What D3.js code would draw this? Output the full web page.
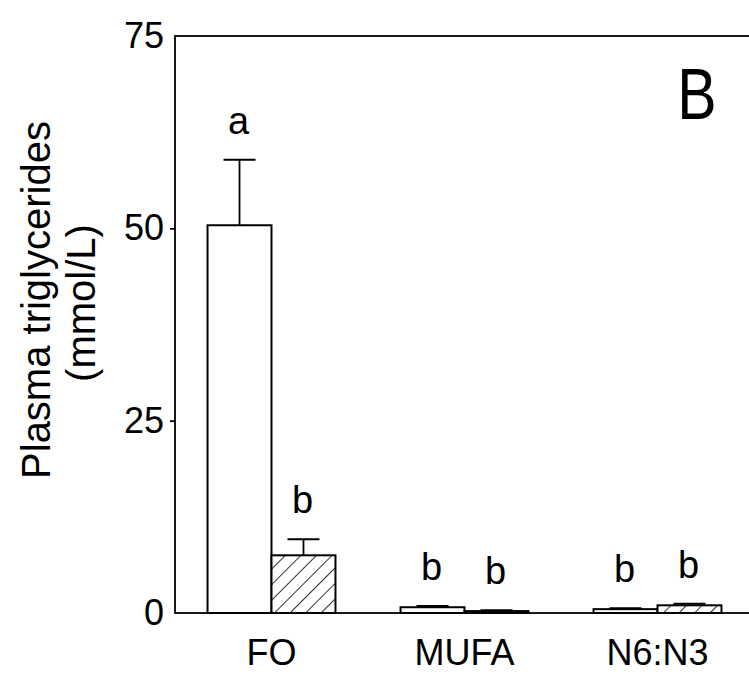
<!DOCTYPE html>
<html>
<head>
<meta charset="utf-8">
<script src="https://cdn.jsdelivr.net/npm/d3@7"></script>
<style>
  html, body { margin: 0; padding: 0; background: #fff; }
  svg { display: block; }
  text { font-family: "Liberation Sans", Arial, Helvetica, sans-serif; fill: #000; }
</style>
</head>
<body>
<svg id="chart" width="749" height="674"></svg>
<script>
// ---- data ----
const categories = ["FO", "MUFA", "N6:N3"];
const seriesNames = ["open", "hatched"];
const openValues = [50.4, 0.75, 0.5];
const openErrors = [8.5, 0.15, 0.12];
const hatchedValues = [7.5, 0.25, 1.0];
const hatchedErrors = [2.1, 0.1, 0.2];
const openLetters = ["a", "b", "b"];
const hatchedLetters = ["b", "b", "b"];
const yTicks = [0, 25, 50, 75];
const yTitle = ["Plasma triglycerides", "(mmol/L)"];
const panelLabel = "B";

// ---- layout ----
const svg = d3.select("#chart");
const plotLeft = 175, plotRight = 754, plotTop = 36, plotBottom = 613;

const x = d3.scaleBand().domain(categories).range([plotLeft, plotRight])
  .paddingInner(0.337).paddingOuter(0.1685);
const xs = d3.scaleBand().domain(seriesNames).range([0, x.bandwidth()]).padding(0);
const y = d3.scaleLinear().domain([0, 75]).range([plotBottom, plotTop]);

// hatch pattern
const hs = 11;
const defs = svg.append("defs");
const pat = defs.append("pattern")
  .attr("id", "hatch").attr("patternUnits", "userSpaceOnUse")
  .attr("width", hs).attr("height", hs)
  .attr("patternTransform", "rotate(45)");
pat.append("rect").attr("width", hs).attr("height", hs).attr("fill", "#fff");
pat.append("line").attr("x1", 0).attr("y1", 0).attr("x2", 0).attr("y2", hs)
  .attr("stroke", "#000").attr("stroke-width", 1.6);

const rows = [];
categories.forEach((c, i) => {
  rows.push({cat: c, s: "open", v: openValues[i], e: openErrors[i], l: openLetters[i]});
  rows.push({cat: c, s: "hatched", v: hatchedValues[i], e: hatchedErrors[i], l: hatchedLetters[i]});
});

// bars
const g = svg.append("g");
g.selectAll("rect.bar").data(rows).join("rect")
  .attr("class", "bar")
  .attr("x", d => x(d.cat) + xs(d.s))
  .attr("width", xs.bandwidth())
  .attr("y", d => y(d.v))
  .attr("height", d => y(0) - y(d.v))
  .attr("fill", d => d.s === "open" ? "#fff" : "url(#hatch)")
  .attr("stroke", "#000").attr("stroke-width", 2);

// error bars (upper only)
const capHalf = 16;
const eb = g.selectAll("g.err").data(rows).join("g").attr("class", "err");
eb.append("line")
  .attr("x1", d => x(d.cat) + xs(d.s) + xs.bandwidth() / 2)
  .attr("x2", d => x(d.cat) + xs(d.s) + xs.bandwidth() / 2)
  .attr("y1", d => y(d.v)).attr("y2", d => y(d.v + d.e))
  .attr("stroke", "#000").attr("stroke-width", 1.8);
eb.append("line")
  .attr("x1", d => x(d.cat) + xs(d.s) + xs.bandwidth() / 2 - capHalf)
  .attr("x2", d => x(d.cat) + xs(d.s) + xs.bandwidth() / 2 + capHalf)
  .attr("y1", d => y(d.v + d.e)).attr("y2", d => y(d.v + d.e))
  .attr("stroke", "#000").attr("stroke-width", 2);

// significance letters
g.selectAll("text.sig").data(rows).join("text")
  .attr("class", "sig")
  .attr("x", d => x(d.cat) + xs(d.s) + xs.bandwidth() / 2 - 1)
  .attr("y", d => y(d.v + d.e) - 26)
  .attr("text-anchor", "middle")
  .style("font-size", "38px")
  .text(d => d.l);

// frame
svg.append("rect")
  .attr("x", plotLeft).attr("y", plotTop)
  .attr("width", plotRight - plotLeft).attr("height", plotBottom - plotTop)
  .attr("fill", "none").attr("stroke", "#000").attr("stroke-width", 1.8);

// y axis
const yAxis = svg.append("g").attr("transform", `translate(${plotLeft},0)`)
  .call(d3.axisLeft(y).tickValues(yTicks).tickSize(5).tickPadding(7).tickFormat(d3.format("d")));
yAxis.select(".domain").remove();
yAxis.selectAll(".tick line").attr("stroke", "#000").attr("stroke-width", 1.8)
  .attr("display", d => (d === 0 || d === 75) ? "none" : null);
yAxis.selectAll(".tick text")
  .attr("x", -11)
  .style("font-size", "36px").style("font-family", "'Liberation Sans', Arial, sans-serif")
  .attr("fill", "#000");

// x category labels
svg.selectAll("text.cat").data(categories).join("text")
  .attr("class", "cat")
  .attr("x", d => x(d) + x.bandwidth() / 2)
  .attr("y", 665)
  .attr("text-anchor", "middle")
  .style("font-size", "36px")
  .text(d => d);

// y title
svg.append("text")
  .attr("transform", "translate(50,300) rotate(-90)")
  .attr("text-anchor", "middle").style("font-size", "40px")
  .text(yTitle[0]);
svg.append("text")
  .attr("transform", "translate(95,303) rotate(-90)")
  .attr("text-anchor", "middle").style("font-size", "40px")
  .text(yTitle[1]);

// panel label
svg.append("text")
  .attr("transform", "translate(697,119) scale(0.82,1)")
  .attr("text-anchor", "middle").style("font-size", "72px")
  .text(panelLabel);
</script>
</body>
</html>
